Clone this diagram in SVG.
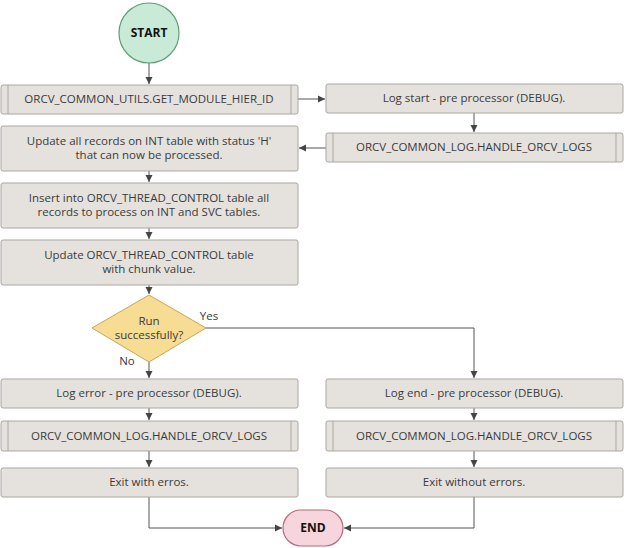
<svg xmlns="http://www.w3.org/2000/svg" width="624" height="548" viewBox="0 0 624 548">
<style>
text{font-family:"Open Sans","Noto Sans",sans-serif;font-size:11.5px;fill:#3a3a3a;text-anchor:middle}
.b{fill:#e5e2de;stroke:#aaa7a3;stroke-width:1}
.s{fill:none;stroke:#aaa7a3;stroke-width:1}
.c{fill:none;stroke:#555;stroke-width:1}
.t{font-weight:bold;fill:#111;font-size:12px}
</style>
<defs><marker id="a" markerWidth="8" markerHeight="8" refX="7" refY="4" orient="auto" markerUnits="userSpaceOnUse"><path d="M0,0.5 L7,4 L0,7.5 Z" fill="#444"/></marker></defs>
<rect width="624" height="548" fill="#fff"/>
<g id="connectors" class="c">
<path class="c" d="M149,63 V84" marker-end="url(#a)"/>
<path class="c" d="M298,99 H325" marker-end="url(#a)"/>
<path class="c" d="M474,113 V132" marker-end="url(#a)"/>
<path class="c" d="M326,148 H299" marker-end="url(#a)"/>
<path class="c" d="M149,171 V182" marker-end="url(#a)"/>
<path class="c" d="M149,228 V239" marker-end="url(#a)"/>
<path class="c" d="M149,285 V294" marker-end="url(#a)"/>
<path class="c" d="M149,362 V378" marker-end="url(#a)"/>
<path class="c" d="M206,328 H474 V378" marker-end="url(#a)"/>
<path class="c" d="M149,408 V420" marker-end="url(#a)"/>
<path class="c" d="M149,451 V467" marker-end="url(#a)"/>
<path class="c" d="M474,408 V420" marker-end="url(#a)"/>
<path class="c" d="M474,451 V467" marker-end="url(#a)"/>
<path class="c" d="M149,497 V528 H282" marker-end="url(#a)"/>
<path class="c" d="M474,497 V528 H344" marker-end="url(#a)"/>
</g>
<g id="start"><circle cx="149" cy="33" r="30" fill="#c8ead6" stroke="#5f9e78" stroke-width="1.2"/><text x="149" y="37" class="t">START</text></g>
<g id="getHier"><rect class="b" x="1" y="85" width="297" height="29" rx="2"/><path class="s" d="M8,85 V114 M291,85 V114"/><text x="149" y="103">ORCV_COMMON_UTILS.GET_MODULE_HIER_ID</text></g>
<g id="logStart"><rect class="b" x="326" y="84" width="297" height="29" rx="2"/><text x="474" y="102">Log start - pre processor (DEBUG).</text></g>
<g id="handle1"><rect class="b" x="326" y="133" width="297" height="29" rx="2"/><path class="s" d="M333,133 V162 M616,133 V162"/><text x="474" y="151">ORCV_COMMON_LOG.HANDLE_ORCV_LOGS</text></g>
<g id="update"><rect class="b" x="1" y="126" width="297" height="45" rx="2"/><text x="149" y="145">Update all records on INT table with status 'H'</text><text x="149" y="159">that can now be processed.</text></g>
<g id="insert"><rect class="b" x="1" y="183" width="297" height="45" rx="2"/><text x="149" y="202">Insert into ORCV_THREAD_CONTROL table all</text><text x="149" y="216">records to process on INT and SVC tables.</text></g>
<g id="chunk"><rect class="b" x="1" y="240" width="297" height="45" rx="2"/><text x="149" y="259">Update ORCV_THREAD_CONTROL table</text><text x="149" y="273">with chunk value.</text></g>
<g id="decision"><path d="M149,295 L206,328 L149,362 L92,328 Z" fill="#f7dc93" stroke="#c7a758"/><text x="149" y="325">Run</text><text x="149" y="339">successfully?</text><text x="209" y="320">Yes</text><text x="127" y="365">No</text></g>
<g id="logError"><rect class="b" x="1" y="379" width="297" height="29" rx="2"/><text x="149" y="397">Log error - pre processor (DEBUG).</text></g>
<g id="handle2"><rect class="b" x="1" y="421" width="297" height="30" rx="2"/><path class="s" d="M8,421 V451 M291,421 V451"/><text x="149" y="440">ORCV_COMMON_LOG.HANDLE_ORCV_LOGS</text></g>
<g id="exitErr"><rect class="b" x="1" y="468" width="297" height="29" rx="2"/><text x="149" y="486">Exit with erros.</text></g>
<g id="logEnd"><rect class="b" x="326" y="379" width="297" height="29" rx="2"/><text x="474" y="397">Log end - pre processor (DEBUG).</text></g>
<g id="handle3"><rect class="b" x="326" y="421" width="297" height="30" rx="2"/><path class="s" d="M333,421 V451 M616,421 V451"/><text x="474" y="440">ORCV_COMMON_LOG.HANDLE_ORCV_LOGS</text></g>
<g id="exitOk"><rect class="b" x="326" y="468" width="297" height="29" rx="2"/><text x="474" y="486">Exit without errors.</text></g>
<g id="end"><rect x="283" y="510" width="60" height="36" rx="18" fill="#f6d5dd" stroke="#b86a7d" stroke-width="1.2"/><text x="313" y="532" class="t">END</text></g>
</svg>
